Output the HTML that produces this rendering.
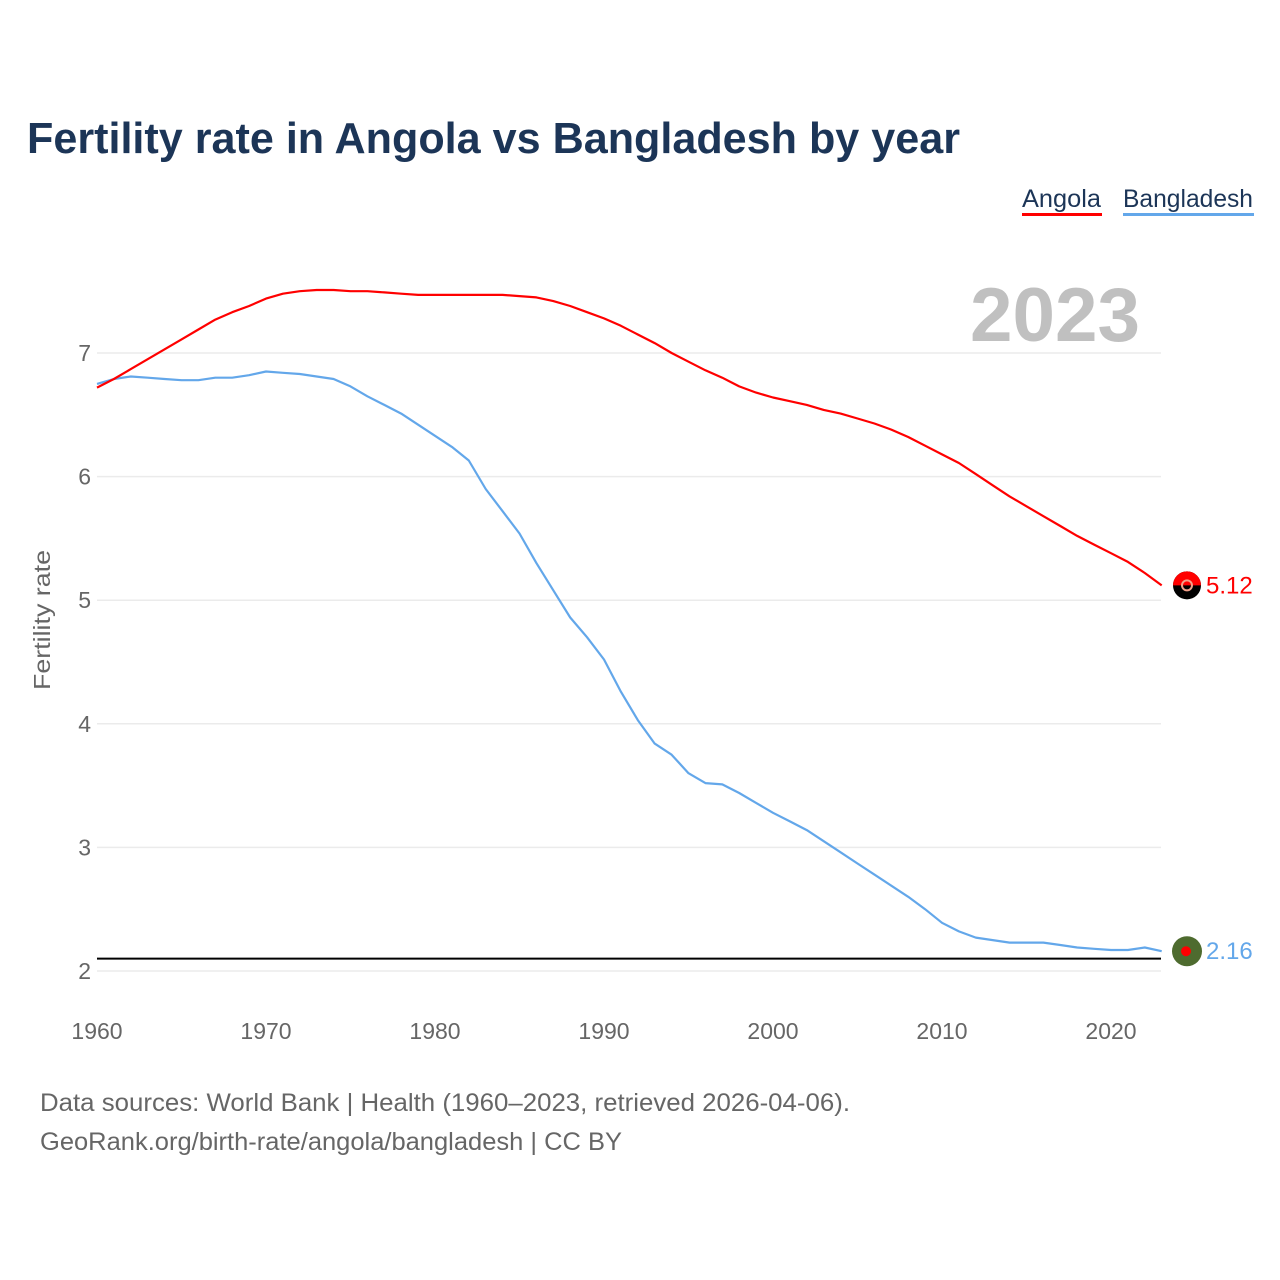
<!DOCTYPE html>
<html><head><meta charset="utf-8">
<style>
body{margin:0;background:#fff;}
svg{display:block;font-family:"Liberation Sans",sans-serif;}
</style></head>
<body>
<svg id="chart" width="1280" height="1280" viewBox="0 0 1280 1280" xmlns="http://www.w3.org/2000/svg">
<rect width="1280" height="1280" fill="#fff"/>
<text x="27" y="153" font-size="44" font-weight="bold" fill="#1c3557" textLength="933" lengthAdjust="spacingAndGlyphs">Fertility rate in Angola vs Bangladesh by year</text>
<g>
<text x="1022" y="207" font-size="25" fill="#1c3557" textLength="79" lengthAdjust="spacingAndGlyphs">Angola</text>
<rect x="1022" y="213" width="80" height="3" fill="#ff0000"/>
<text x="1123" y="207" font-size="25" fill="#1c3557" textLength="130" lengthAdjust="spacingAndGlyphs">Bangladesh</text>
<rect x="1123" y="213" width="131" height="3" fill="#63a7ea"/>
</g>
<text x="1140" y="341" font-size="76" font-weight="bold" fill="#c0c0c0" text-anchor="end" textLength="170" lengthAdjust="spacingAndGlyphs">2023</text>
<text transform="translate(50,620) rotate(-90)" font-size="23" fill="#666" text-anchor="middle" textLength="140" lengthAdjust="spacingAndGlyphs">Fertility rate</text>
<g id="grid"></g>
<g id="series"></g>
<text x="40" y="1111" font-size="25" fill="#666" textLength="810" lengthAdjust="spacingAndGlyphs">Data sources: World Bank | Health (1960–2023, retrieved 2026-04-06).</text>
<text x="40" y="1150" font-size="25" fill="#666" textLength="582" lengthAdjust="spacingAndGlyphs">GeoRank.org/birth-rate/angola/bangladesh | CC BY</text>
</svg>
<script>
const years = [];
for (let y = 1960; y <= 2023; y++) years.push(y);
const angola = [6.72,6.79,6.87,6.95,7.03,7.11,7.19,7.27,7.33,7.38,7.44,7.48,7.50,7.51,7.51,7.50,7.50,7.49,7.48,7.47,7.47,7.47,7.47,7.47,7.47,7.46,7.45,7.42,7.38,7.33,
7.28,7.22,7.15,7.08,7.00,6.93,6.86,6.80,6.73,6.68,6.64,6.61,6.58,6.54,6.51,6.47,6.43,6.38,6.32,6.25,6.18,6.11,6.02,5.93,5.84,5.76,5.68,5.60,5.52,5.45,5.38,5.31,5.22,5.12];
const bangladesh = [6.75,6.79,6.81,6.80,6.79,6.78,6.78,6.80,6.80,6.82,6.85,6.84,6.83,6.81,6.79,6.73,6.65,6.58,6.51,6.42,6.33,6.24,6.13,5.90,5.72,5.54,5.30,5.08,4.86,4.70,
4.52,4.26,4.03,3.84,3.75,3.60,3.52,3.51,3.44,3.36,3.28,3.21,3.14,3.05,2.96,2.87,2.78,2.69,2.60,2.50,2.39,2.32,2.27,2.25,2.23,2.23,2.23,2.21,2.19,2.18,2.17,2.17,2.19,2.16];
const yTicks = [2,3,4,5,6,7];
const xTicks = [1960,1970,1980,1990,2000,2010,2020];
const replacementRate = [2.1];

const NS = "http://www.w3.org/2000/svg";
const X0 = 97, XPY = 1014/60, Y2 = 971, UPY = 123.6;
const xs = v => X0 + (v - 1960) * XPY;
const ys = v => Y2 - (v - 2) * UPY;
function mk(tag, attrs, parent){const e=document.createElementNS(NS,tag);for(const k in attrs)e.setAttribute(k,attrs[k]);parent.appendChild(e);return e;}
const grid = document.getElementById('grid');
const ser = document.getElementById('series');
yTicks.forEach(t=>{
  const l = mk('line',{x1:97,x2:1161,y1:ys(t),y2:ys(t),stroke:'#ebebeb','stroke-width':1.5},grid);
  
  
  const tx = mk('text',{x:91,y:ys(t)+8,'font-size':23,fill:'#666','text-anchor':'end'},grid);
  tx.textContent = t;
  
  
});
xTicks.forEach(t=>{
  const tx = mk('text',{x:xs(t),y:1039,'font-size':23,fill:'#666','text-anchor':'middle'},grid);
  tx.textContent = t;
  
  
});
replacementRate.forEach(r=>{
  const l = mk('line',{x1:97,x2:1161,y1:ys(r),y2:ys(r),stroke:'#000','stroke-width':2},grid);
  
  
});
function line(data,color,name){
  const d = data.map((v,i)=>(i?'L':'M')+xs(years[i]).toFixed(1)+' '+ys(v).toFixed(1)).join(' ');
  const p = mk('path',{d:d,fill:'none',stroke:color,'stroke-width':2.2,'stroke-linejoin':'round'},ser);
  
  
}
line(bangladesh,'#63a7ea','bangladesh-line');
line(angola,'#ff0000','angola-line');
const aLast = angola[angola.length-1], bLast = bangladesh[bangladesh.length-1];
const cx = 1187;
const ga = mk('g',{},ser);


mk('circle',{cx:cx,cy:ys(aLast),r:14,fill:'#000'},ga);
mk('path',{d:`M${cx-14} ${ys(aLast)} A14 14 0 0 1 ${cx+14} ${ys(aLast)} Z`,fill:'#ff0000'},ga);
mk('circle',{cx:cx,cy:ys(aLast),r:5,fill:'none',stroke:'#f2a08a','stroke-width':2},ga);
const at = mk('text',{x:1206,y:ys(aLast)+8,'font-size':24,fill:'#ff0000'},ser);
at.textContent = aLast.toFixed(2);


const gb = mk('g',{},ser);


mk('circle',{cx:cx,cy:ys(bLast),r:15,fill:'#4e6b2f'},gb);
mk('circle',{cx:cx-1,cy:ys(bLast),r:5,fill:'#ff0000'},gb);
const bt = mk('text',{x:1206,y:ys(bLast)+8,'font-size':24,fill:'#63a7ea'},ser);
bt.textContent = bLast.toFixed(2);


</script>
</body></html>
